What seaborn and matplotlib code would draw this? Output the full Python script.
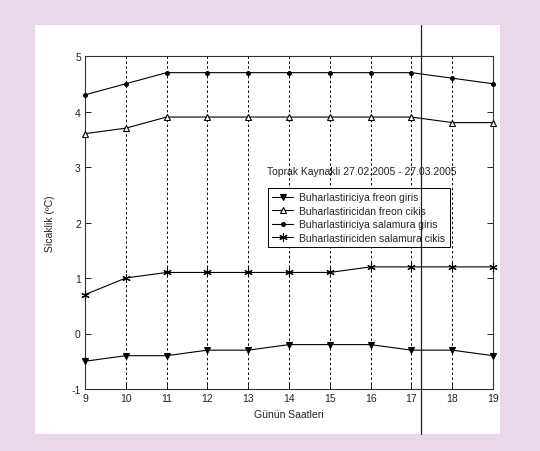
import matplotlib
matplotlib.use("Agg")
import matplotlib.pyplot as plt
import seaborn as sns
import pandas as pd
from matplotlib.patches import Rectangle
from matplotlib.lines import Line2D

hours = [9, 10, 11, 12, 13, 14, 15, 16, 17, 18, 19]
freon_giris = [-0.5, -0.4, -0.4, -0.3, -0.3, -0.2, -0.2, -0.2, -0.3, -0.3, -0.4]
freon_cikis = [3.6, 3.7, 3.9, 3.9, 3.9, 3.9, 3.9, 3.9, 3.9, 3.8, 3.8]
salamura_giris = [4.3, 4.5, 4.7, 4.7, 4.7, 4.7, 4.7, 4.7, 4.7, 4.6, 4.5]
salamura_cikis = [0.7, 1.0, 1.1, 1.1, 1.1, 1.1, 1.1, 1.2, 1.2, 1.2, 1.2]
series_names = ["Buharlastiriciya freon giris", "Buharlastiricidan freon cikis",
                "Buharlastiriciya salamura giris", "Buharlastiriciden salamura cikis"]
y_ticks = [-1, 0, 1, 2, 3, 4, 5]

sns.set_style("white")
plt.rcParams['font.family'] = ['Liberation Sans', 'DejaVu Sans']
plt.rcParams['axes.unicode_minus'] = False

W, H = 540, 452
fig = plt.figure(figsize=(5.4, 4.52), dpi=100, facecolor="#e9d8ea")
fig.patches.append(Rectangle((35 / W, 1 - 435 / H), 465 / W, 409 / H,
                             transform=fig.transFigure, facecolor="white",
                             edgecolor="none", zorder=-5))
ax = fig.add_axes([85 / W, 1 - 390 / H, 408 / W, 333 / H])
ax.set_facecolor("white")

df = pd.DataFrame({
    "hour": hours * 4,
    "value": freon_giris + freon_cikis + salamura_giris + salamura_cikis,
    "series": [series_names[0]] * 11 + [series_names[1]] * 11 +
              [series_names[2]] * 11 + [series_names[3]] * 11,
})
styles = {
    series_names[0]: dict(marker="v", mfc="black", ms=5),
    series_names[1]: dict(marker="^", mfc="white", ms=5),
    series_names[2]: dict(marker=".", mfc="black", ms=5.5),
    series_names[3]: dict(marker=(6, 2, 0), mfc="black", ms=6),
}
for name in series_names:
    sub = df[df["series"] == name]
    st = styles[name]
    sns.lineplot(data=sub, x="hour", y="value", ax=ax, color="black", lw=0.8,
                 marker=st["marker"], markerfacecolor=st["mfc"], markeredgecolor="black",
                 markersize=st["ms"], markeredgewidth=0.8, label=name, zorder=3,
                 clip_on=False)

ax.set_xlim(9, 19)
ax.set_ylim(-1, 5)
ax.set_xticks(hours)
ax.set_yticks(y_ticks)
for h in hours:
    ax.axvline(h, color="black", ls=(0, (2.5, 2.5)), lw=0.7, zorder=1)
ax.tick_params(axis="both", direction="in", length=4, width=0.7, labelsize=7.5,
               colors="#222222", top=False, right=True, left=True, bottom=True, pad=3)
for sp in ax.spines.values():
    sp.set_color("#333333")
    sp.set_linewidth(0.8)
    sp.set_visible(True)
ax.set_xlabel("Günün Saatleri", fontsize=7.5, color="#222222", labelpad=4)
ax.set_ylabel("Sicaklik (ºC)", fontsize=7.5, color="#222222", labelpad=12)

ax.text(13.45, 2.93, "Toprak Kaynakli 27.02.2005 - 27.03.2005", fontsize=7.5,
        color="#222222", va="center", ha="left")
leg = ax.legend(loc="upper left", bbox_to_anchor=((268 - 85) / 408, 1 - (189 - 57) / 333),
                fontsize=7.5, frameon=True, fancybox=False, borderpad=0.4,
                labelspacing=0.35, handlelength=2.0, handletextpad=0.6, borderaxespad=0)
leg.get_frame().set_edgecolor("black")
leg.get_frame().set_linewidth(0.7)
leg.get_frame().set_alpha(1)

fig.add_artist(Line2D([421 / W, 421 / W], [1 - 435 / H, 1 - 26 / H],
                      transform=fig.transFigure, color="#222222", lw=0.9, zorder=5))

fig.savefig("out.png", dpi=100, facecolor=fig.get_facecolor())
